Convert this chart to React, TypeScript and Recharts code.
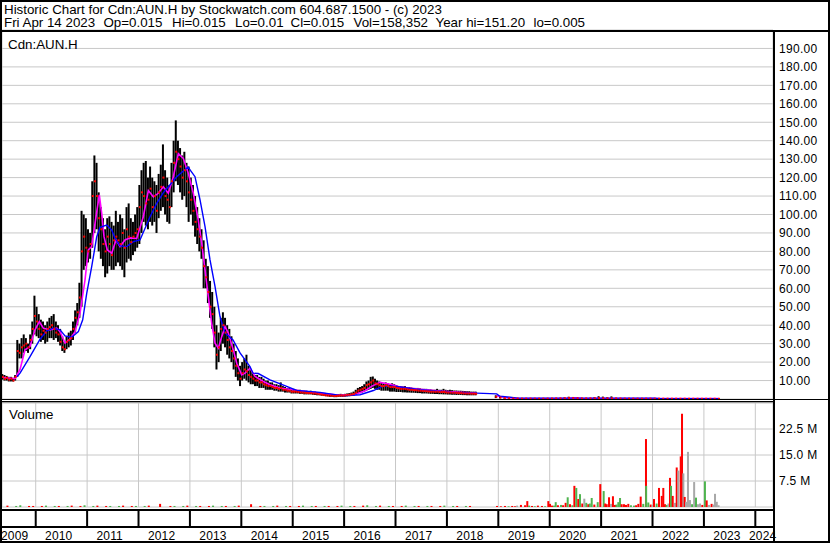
import React from "react";
import { ComposedChart, Bar, Line, XAxis, YAxis, CartesianGrid } from "recharts";

const FONT = '"Liberation Sans", Arial, Helvetica, sans-serif';
const W = 830;
const H = 543;

const TITLE = "Historic Chart for Cdn:AUN.H by Stockwatch.com 604.687.1500 - (c) 2023";
const SUBTITLE_PARTS = ["Fri Apr 14 2023", "Op=0.015", "Hi=0.015", "Lo=0.01", "Cl=0.015", "Vol=158,352", "Year hi=151.20", "lo=0.005"];
const SUBTITLE_X = [4, 103.5, 172, 235, 290.5, 353.5, 435.5, 533.5];
const SYMBOL = "Cdn:AUN.H";
const VOLUME_LABEL = "Volume";

// x axis: decimal years
const X_DOMAIN: [number, number] = [2009.344, 2024.344];
const YEAR_GRID = [2010, 2011, 2012, 2013, 2014, 2015, 2016, 2017, 2018, 2019, 2020, 2021, 2022, 2023, 2024];
const YEAR_LABELS = [2009, 2010, 2011, 2012, 2013, 2014, 2015, 2016, 2017, 2018, 2019, 2020, 2021, 2022, 2023, 2024];
const PRICE_TICKS = [10, 20, 30, 40, 50, 60, 70, 80, 90, 100, 110, 120, 130, 140, 150, 160, 170, 180, 190];
const VOLUME_TICKS = [7.5, 15, 22.5];

// price bars, semi-monthly, 2009.35 - 2018.6
const SEG1_START = 2009.35;
const SEG1_PER_YEAR = 24;
const seg1Low = [
  10.5, 10, 10, 9.5, 9.5, 9.5, 10, 12, 22, 22, 25, 26, 25, 27, 30, 35, 34, 33, 31, 32,
  30, 31, 33, 33, 32, 33, 31, 29, 26, 25, 27, 28, 29, 32, 36, 40, 44, 50, 70, 72,
  74, 76, 82, 90, 92, 80, 76, 72, 66, 68, 72, 70, 70, 72, 74, 72, 70, 66, 74, 76,
  75, 78, 80, 82, 84, 90, 96, 94, 92, 96, 94, 96, 90, 98, 102, 104, 100, 96, 95, 104,
  112, 118, 116, 112, 108, 110, 104, 96, 100, 94, 88, 84, 80, 76, 60, 60, 52, 44, 38, 28,
  16, 20, 26, 30, 28, 24, 22, 20, 16, 12, 10, 7, 10, 11, 10, 9, 8, 8, 7, 7,
  6, 6, 6, 5, 5, 5, 5, 4.5, 4.5, 4, 4, 4, 3.5, 3.5, 3.5, 3, 3, 3, 3, 2.8,
  2.8, 2.5, 2.5, 2.5, 2.5, 2.3, 2.2, 2, 2, 1.8, 1.6, 1.5, 1.4, 1.2, 1.2, 1, 1, 1.2, 1.2, 1.2,
  1.3, 1.4, 1.5, 1.6, 1.8, 2.2, 2.8, 3.2, 3.5, 4, 4.5, 5, 5.5, 6, 5.5, 5, 5, 4.5, 4.5, 4.5,
  4.5, 4, 4, 4, 3.8, 3.8, 3.8, 3.6, 3.6, 3.5, 3.5, 3.4, 3.4, 3.3, 3.2, 3.2, 3, 3, 3, 2.9,
  2.8, 2.8, 2.7, 2.7, 2.6, 2.6, 2.5, 2.5, 2.4, 2.4, 2.3, 2.3, 2.2, 2.2, 2.2, 2.1, 2.1, 2, 2, 2,
  2, 2,
];
const seg1High = [
  13.5, 13, 12.5, 12, 12, 11.5, 13, 32, 30, 33, 35, 33, 30, 35, 42, 56, 50, 46, 43, 42,
  40, 42, 44, 45, 46, 42, 40, 38, 34, 31, 34, 36, 37, 42, 48, 52, 63, 102, 100, 98,
  92, 90, 118, 132, 128, 112, 104, 98, 92, 98, 99, 96, 94, 102, 96, 100, 98, 92, 104, 106,
  98, 96, 100, 104, 116, 124, 128, 129, 120, 126, 120, 118, 116, 122, 127, 138, 124, 120, 116, 128,
  140, 151, 140, 136, 132, 134, 128, 126, 120, 116, 110, 104, 98, 92, 86, 76, 72, 64, 58, 50,
  40, 36, 44, 47, 44, 40, 38, 34, 30, 26, 22, 18, 20, 22, 24, 18, 16, 14, 13, 13,
  12, 12, 11, 10, 10, 9, 9, 8, 8, 7.5, 9, 7, 6.5, 6, 6, 5.5, 5.5, 5, 5, 5,
  4.5, 4.5, 4.5, 4, 4.5, 4, 4, 3.8, 3.5, 3.3, 3, 3, 2.8, 2.6, 2.6, 2.4, 2.5, 2.6, 2.8, 2.6,
  2.8, 3, 3.2, 3.5, 4, 5, 6, 6.5, 7, 8, 9.5, 10, 12, 12.2, 11, 10, 9.5, 9, 8.5, 9,
  8.5, 8, 8.5, 8, 7.5, 7, 7, 6.8, 7, 6.5, 6.5, 6.2, 6, 6, 6, 5.8, 5.5, 5.5, 5.5, 5.2,
  5.2, 5, 5, 5.5, 5, 5, 5.5, 5, 4.8, 5, 4.8, 4.6, 4.6, 4.5, 4.5, 4.4, 4.3, 4.2, 4.2, 4,
  4, 4,
];
const seg1Close = [
  12, 11, 11.5, 10.5, 11, 10, 12, 26, 25, 28, 29, 30, 28, 32, 38, 45, 42, 38, 35, 37,
  36, 38, 39, 40, 38, 36, 35, 31, 28, 27, 31, 32, 33, 38, 44, 47, 55, 80, 88, 82,
  80, 84, 110, 118, 110, 98, 92, 84, 80, 88, 84, 78, 86, 88, 86, 84, 90, 82, 92, 88,
  85, 88, 90, 92, 104, 112, 110, 106, 108, 114, 104, 110, 102, 112, 115, 120, 110, 108, 104, 118,
  128, 134, 130, 126, 120, 124, 118, 112, 108, 102, 96, 92, 88, 82, 72, 66, 58, 50, 46, 36,
  24, 28, 38, 40, 36, 32, 28, 26, 22, 18, 14, 11, 14, 16, 15, 13, 12, 11, 10, 10,
  9, 9, 8, 7.5, 7, 7, 6.5, 6, 6, 5.5, 6, 5, 5, 4.5, 4.5, 4, 4, 4, 3.8, 3.6,
  3.5, 3.4, 3.3, 3.2, 3.2, 3, 3, 2.8, 2.6, 2.4, 2.2, 2, 1.9, 1.8, 1.7, 1.6, 1.7, 1.8, 1.9, 1.8,
  2, 2.2, 2.3, 2.5, 2.8, 3.5, 4.5, 5, 5.5, 6, 7.5, 8, 9, 10, 8.5, 8, 7.5, 7, 7, 7.5,
  7, 6.5, 6.5, 6.5, 6, 5.8, 5.5, 5.5, 5.5, 5.2, 5, 5, 4.8, 4.8, 4.6, 4.5, 4.4, 4.3, 4.2, 4.1,
  4, 4, 3.9, 4, 3.8, 3.8, 3.8, 3.6, 3.5, 3.5, 3.4, 3.4, 3.3, 3.2, 3.2, 3.1, 3, 3, 3, 2.9,
  2.9, 2.8,
];

// price bars, monthly, 2018.95 - 2023.29
const SEG2_START = 2018.95;
const SEG2_PER_YEAR = 12;
const seg2Low = [
  0.5, 0.3, 0.2, 0.15, 0.1, 0.1, 0.1, 0.1, 0.08, 0.08, 0.08, 0.08, 0.1, 0.1, 0.1, 0.12, 0.15, 0.2, 0.2, 0.15,
  0.12, 0.1, 0.1, 0.12, 0.15, 0.15, 0.12, 0.1, 0.1, 0.08, 0.08, 0.08, 0.08, 0.07, 0.07, 0.07, 0.06, 0.06, 0.06, 0.06,
  0.05, 0.05, 0.05, 0.05, 0.05, 0.05, 0.05, 0.05, 0.04, 0.04, 0.04, 0.04, 0.04,
];
const seg2High = [
  2, 1.5, 1, 0.8, 0.6, 0.5, 0.4, 0.4, 0.35, 0.35, 0.3, 0.3, 0.4, 0.5, 0.5, 0.6, 0.8, 1.2, 1.1, 0.8,
  0.6, 0.5, 0.6, 0.9, 1.5, 1.3, 0.9, 1.4, 0.6, 0.5, 0.4, 0.4, 0.35, 0.35, 0.3, 0.3, 0.3, 0.3, 0.3, 0.28,
  0.28, 0.28, 0.25, 0.25, 0.25, 0.25, 0.22, 0.22, 0.2, 0.2, 0.2, 0.2, 0.2,
];
const seg2Close = [
  1.2, 0.8, 0.5, 0.4, 0.3, 0.25, 0.2, 0.2, 0.2, 0.18, 0.18, 0.18, 0.2, 0.25, 0.3, 0.3, 0.4, 0.6, 0.5, 0.4,
  0.3, 0.3, 0.3, 0.4, 0.5, 0.45, 0.35, 0.35, 0.3, 0.25, 0.2, 0.2, 0.2, 0.18, 0.18, 0.17, 0.16, 0.16, 0.15, 0.15,
  0.15, 0.14, 0.14, 0.13, 0.13, 0.12, 0.12, 0.12, 0.11, 0.11, 0.1, 0.1, 0.1,
];

// short moving average (magenta): [year, value]
const ma50: [number, number | null][] = [
  [2009.35, 11.8], [2009.597, 11], [2009.695, 16], [2009.792, 26.7], [2009.889, 28.4], [2009.986, 37.5],
  [2010.07, 42], [2010.148, 38.4], [2010.278, 37.5], [2010.409, 38.4], [2010.473, 36.5], [2010.57, 30.3],
  [2010.667, 32.4], [2010.765, 36.5], [2010.862, 46.5], [2010.959, 64.5], [2011.023, 80.8], [2011.089, 82.6],
  [2011.154, 95.2], [2011.237, 110.6], [2011.284, 100.6], [2011.329, 88], [2011.393, 80.8], [2011.479, 79],
  [2011.562, 86.2], [2011.64, 82.6], [2011.737, 86.2], [2011.835, 87.3], [2011.965, 87], [2012.093, 98.8],
  [2012.191, 113], [2012.288, 109.6], [2012.385, 111.5], [2012.482, 115], [2012.58, 111.5], [2012.677, 120.5],
  [2012.774, 133], [2012.872, 130.4], [2012.969, 122.3], [2013.066, 111.5], [2013.163, 97], [2013.23, 84.4],
  [2013.294, 70], [2013.358, 55.5], [2013.424, 41], [2013.488, 30.3], [2013.553, 27.6], [2013.619, 33.8],
  [2013.683, 39.2], [2013.747, 35.7], [2013.844, 26.6], [2013.911, 19.4], [2014.008, 13.1], [2014.072, 14],
  [2014.169, 16.7], [2014.267, 12.2], [2014.428, 9.5], [2014.558, 7.7], [2014.753, 6], [2015.142, 4.5],
  [2015.531, 3.2], [2015.92, 2], [2016.212, 2.4], [2016.407, 4.5], [2016.543, 7], [2016.698, 9],
  [2016.893, 8], [2017.088, 6.5], [2017.477, 5.3], [2017.866, 4.3], [2018.255, 3.6], [2018.566, 3.2],
  [2018.75, null],
  [2018.975, 1.8], [2019.13, 0.8], [2019.422, 0.3], [2020.356, 0.35], [2020.492, 0.7], [2020.628, 0.35],
  [2023.288, 0.2],
];

// long moving average (blue): [year, value]
const ma200: [number, number][] = [
  [2009.636, 12], [2009.695, 14], [2009.889, 23], [2010.084, 32.4], [2010.214, 37], [2010.343, 38.4],
  [2010.473, 37.5], [2010.57, 34.2], [2010.7, 33.5], [2010.83, 36.5], [2010.914, 42.9], [2010.992, 57.3],
  [2011.089, 71.7], [2011.187, 88], [2011.251, 93], [2011.381, 94.3], [2011.479, 91.6], [2011.543, 87],
  [2011.64, 83], [2011.77, 82.6], [2011.9, 85.3], [2012.029, 86.2], [2012.224, 98.8], [2012.354, 106],
  [2012.477, 111.6], [2012.743, 120.5], [2012.963, 125.7], [2013.099, 120.5], [2013.196, 108], [2013.294, 93.4],
  [2013.391, 75.4], [2013.488, 61], [2013.585, 44.7], [2013.683, 35.8], [2013.839, 32], [2013.975, 25],
  [2014.169, 17.6], [2014.228, 14], [2014.33, 13.8], [2014.558, 10.4], [2014.883, 6.8], [2015.078, 4.6],
  [2015.531, 3.5], [2015.984, 1.7], [2016.31, 2.3], [2016.568, 4.6], [2016.763, 7.1], [2017.023, 6.8],
  [2017.477, 5], [2018.125, 3.5], [2018.58, 3.2], [2018.969, 2.8], [2019.03, 1.5], [2019.38, 0.5],
  [2022.04, 0.5], [2022.15, 0.2], [2023.288, 0.2],
];

// volume in millions: [year, volume, r=down g=up k=unchanged]
const volume: [number, number, string][] = [
  [2009.45, 0.4, "r"], [2009.62, 0.3, "g"], [2009.7, 0.5, "g"], [2009.87, 0.3, "r"], [2009.95, 0.3, "r"],
  [2010.12, 0.3, "r"], [2010.2, 0.4, "g"], [2010.37, 0.3, "g"], [2010.45, 0.3, "r"], [2010.62, 0.3, "g"],
  [2010.7, 0.4, "r"], [2010.87, 0.3, "r"], [2010.95, 0.5, "g"], [2011.12, 0.3, "g"], [2011.2, 0.4, "r"],
  [2011.37, 0.3, "r"], [2011.45, 0.3, "g"], [2011.62, 0.3, "g"], [2011.7, 0.4, "r"], [2011.87, 0.3, "r"],
  [2011.95, 0.3, "g"], [2012.12, 0.3, "g"], [2012.2, 0.4, "r"], [2012.42, 0.9, "r"], [2012.62, 0.3, "r"],
  [2012.7, 0.3, "g"], [2012.87, 0.3, "g"], [2012.95, 0.4, "r"], [2013.12, 0.3, "g"], [2013.2, 0.3, "r"],
  [2013.37, 0.3, "r"], [2013.45, 0.4, "g"], [2013.62, 0.3, "g"], [2013.7, 0.3, "r"], [2013.87, 0.3, "g"],
  [2013.95, 0.4, "r"], [2014.19, 0.8, "r"], [2014.37, 0.3, "r"], [2014.45, 0.3, "g"], [2014.62, 0.3, "g"],
  [2014.7, 0.4, "r"], [2014.87, 0.3, "g"], [2014.95, 0.3, "r"], [2015.12, 0.3, "r"], [2015.2, 0.4, "g"],
  [2015.37, 0.3, "g"], [2015.45, 0.3, "r"], [2015.62, 0.3, "g"], [2015.7, 0.3, "r"], [2015.87, 0.3, "r"],
  [2015.95, 0.4, "g"], [2016.12, 0.3, "g"], [2016.2, 0.3, "r"], [2016.37, 0.4, "r"], [2016.45, 0.5, "g"],
  [2016.62, 0.3, "g"], [2016.7, 0.4, "r"], [2016.87, 0.3, "g"], [2016.95, 0.3, "r"], [2017.12, 0.3, "r"],
  [2017.2, 0.4, "g"], [2017.37, 0.3, "g"], [2017.45, 0.3, "r"], [2017.62, 0.3, "g"], [2017.7, 0.3, "r"],
  [2017.87, 0.3, "r"], [2017.95, 0.4, "g"], [2018.12, 0.3, "g"], [2018.2, 0.3, "r"], [2018.37, 0.3, "g"],
  [2018.45, 0.3, "r"],
  [2018.975, 0.3, "r"], [2019.05, 0.2, "r"], [2019.13, 0.3, "r"], [2019.2, 0.2, "g"], [2019.27, 0.3, "r"],
  [2019.325, 0.2, "r"], [2019.365, 0.4, "k"], [2019.44, 0.6, "r"], [2019.52, 0.5, "r"], [2019.564, 1.7, "r"],
  [2019.6, 0.4, "g"], [2019.656, 0.3, "r"], [2019.71, 0.2, "g"], [2019.77, 0.4, "r"], [2019.85, 0.3, "r"],
  [2019.91, 0.2, "g"], [2019.973, 1.7, "r"], [2020.006, 0.9, "r"], [2020.045, 0.4, "r"], [2020.084, 0.4, "g"],
  [2020.117, 1.4, "g"], [2020.16, 0.5, "r"], [2020.22, 0.6, "g"], [2020.26, 0.5, "r"], [2020.31, 1.2, "r"],
  [2020.35, 2.8, "g"], [2020.395, 0.8, "r"], [2020.44, 0.5, "g"], [2020.48, 6.1, "r"], [2020.517, 5.5, "g"],
  [2020.556, 2.3, "r"], [2020.589, 3.7, "g"], [2020.634, 1.0, "r"], [2020.673, 2.4, "k"], [2020.712, 1.2, "g"],
  [2020.751, 0.8, "r"], [2020.78, 1.0, "g"], [2020.817, 2.6, "g"], [2020.868, 0.7, "r"], [2020.934, 1.4, "g"],
  [2020.984, 6.6, "r"], [2021.05, 4.6, "g"], [2021.08, 1.0, "r"], [2021.109, 0.8, "r"], [2021.154, 2.8, "r"],
  [2021.193, 0.9, "k"], [2021.23, 3.1, "r"], [2021.27, 0.6, "r"], [2021.3, 0.7, "g"], [2021.335, 1.4, "g"],
  [2021.368, 2.6, "g"], [2021.4, 0.8, "r"], [2021.445, 0.8, "r"], [2021.484, 0.6, "r"], [2021.529, 0.9, "r"],
  [2021.58, 0.5, "g"], [2021.64, 0.4, "g"], [2021.68, 0.5, "r"], [2021.724, 0.9, "r"], [2021.77, 3.0, "r"],
  [2021.82, 0.9, "g"], [2021.873, 19.6, "r"], [2021.876, 6.1, "g"], [2021.918, 1.3, "g"], [2021.965, 0.7, "r"],
  [2022.0, 0.6, "k"], [2022.029, 2.3, "r"], [2022.08, 1.0, "g"], [2022.126, 5.5, "r"], [2022.18, 3.2, "r"],
  [2022.21, 5.5, "r"], [2022.243, 0.8, "r"], [2022.276, 0.6, "g"], [2022.31, 1.0, "k"], [2022.34, 8.4, "r"],
  [2022.36, 6.1, "g"], [2022.393, 3.2, "r"], [2022.438, 1.2, "k"], [2022.471, 11.4, "r"], [2022.502, 10.5, "k"],
  [2022.549, 14.6, "r"], [2022.574, 26.9, "r"], [2022.6, 9.7, "k"], [2022.626, 2.9, "r"], [2022.652, 1.5, "k"],
  [2022.69, 15.9, "k"], [2022.73, 2.0, "k"], [2022.77, 0.8, "g"], [2022.81, 7.2, "k"], [2022.846, 2.7, "g"],
  [2022.885, 0.8, "k"], [2022.924, 1.0, "k"], [2022.969, 0.6, "r"], [2023.02, 7.4, "g"], [2023.054, 1.9, "r"],
  [2023.1, 0.6, "k"], [2023.15, 0.9, "r"], [2023.187, 0.7, "k"], [2023.216, 3.8, "k"], [2023.25, 1.5, "k"],
  [2023.285, 0.5, "k"],
];

const VOL_COLORS: Record<string, string> = { r: "#ff0000", g: "#4fb44f", k: "#a8a8a8" };

const priceRows = [
  ...seg1Close.map((c, i) => ({ t: SEG1_START + i / SEG1_PER_YEAR, lo: seg1Low[i], hi: seg1High[i], c })),
  ...seg2Close.map((c, i) => ({ t: SEG2_START + i / SEG2_PER_YEAR, lo: seg2Low[i], hi: seg2High[i], c })),
];
const ma50Rows = ma50.map(([t, v]) => ({ t, v }));
const ma200Rows = ma200.map(([t, v]) => ({ t, v }));
const volRows = volume.map(([t, v, c]) => ({ t, v, c }));

const PriceTick = (p: any) => (
  <text x={p.x} y={p.y} dy={4.3} fontFamily={FONT} fontSize={12} letterSpacing={0.3} fill="#000" textAnchor="start">
    {Number(p.payload.value).toFixed(2)}
  </text>
);

const VolTick = (p: any) => (
  <text x={p.x} y={p.y} dy={4.3} fontFamily={FONT} fontSize={12} letterSpacing={0.3} fill="#000" textAnchor="start">
    {`${Number(p.payload.value).toFixed(1)} M`}
  </text>
);

const YearTick = (p: any) => {
  const year = p.payload.value;
  const lx = Math.min(Math.max(p.x + 9.4, 1), 749);
  return (
    <g>
      {year >= YEAR_GRID[0] && (
        <line x1={p.x} x2={p.x} y1={p.y + 2} y2={p.y + 20} stroke="#000" strokeWidth={2} />
      )}
      <text x={lx} y={p.y + 32.5} fontFamily={FONT} fontSize={12} letterSpacing={0.15} fill="#000" textAnchor="start">
        {year}
      </text>
    </g>
  );
};

// fixed-width stick drawn at the bar position the library computes
const RangeStick = (p: any) => {
  const { x, y, width, height } = p;
  if (![x, y, width, height].every((n) => typeof n === "number" && isFinite(n))) return <g />;
  const top = Math.min(y, y + height);
  const h = Math.max(Math.abs(height), 1);
  return <rect x={x + width / 2 - 1} y={top} width={2} height={h} fill="#000" />;
};

const VolStick = (p: any) => {
  const { x, y, width, height, payload } = p;
  if (![x, y, width, height].every((n) => typeof n === "number" && isFinite(n))) return <g />;
  const top = Math.min(y, y + height);
  const h = Math.max(Math.abs(height), 1);
  return <rect x={x + width / 2 - 1} y={top} width={2} height={h} fill={VOL_COLORS[payload?.c] || "#ff0000"} />;
};

const CloseDot = (p: any) => {
  if (p.cx == null || p.cy == null || p.value == null) return <g key={`cd${p.index}`} />;
  return <rect key={`cd${p.index}`} x={p.cx - 0.5} y={p.cy - 1} width={2} height={2} fill="#ff0000" />;
};

export default function App() {
  return (
    <div style={{ position: "absolute", left: 0, top: 0, width: W, height: H, background: "#fff", overflow: "hidden" }}>
      <div style={{ position: "absolute", left: 0, top: 0 }}>
        <ComposedChart width={W} height={400} data={priceRows} margin={{ top: 30, right: 0, left: 2, bottom: 0 }}>
          <CartesianGrid stroke="#c8c8c8" strokeWidth={1} />
          <XAxis
            type="number"
            dataKey="t"
            domain={X_DOMAIN}
            allowDataOverflow
            ticks={YEAR_GRID}
            interval={0}
            height={1}
            tick={false}
            axisLine={false}
            tickLine={false}
          />
          <YAxis
            orientation="right"
            width={57}
            domain={[0, 200]}
            allowDataOverflow
            ticks={PRICE_TICKS}
            interval={0}
            tickSize={0}
            tickMargin={6}
            axisLine={false}
            tickLine={false}
            tick={PriceTick}
          />
          <Bar dataKey={(d: any) => [d.lo, d.hi]} fill="#000" barSize={2} shape={RangeStick} isAnimationActive={false} />
          <Line data={ma50Rows} dataKey="v" stroke="#ff00ff" strokeWidth={1.6} dot={false} activeDot={false} isAnimationActive={false} />
          <Line dataKey="c" stroke="none" dot={CloseDot} activeDot={false} isAnimationActive={false} />
          <Line data={ma200Rows} dataKey="v" stroke="#0000ff" strokeWidth={1.4} dot={false} activeDot={false} isAnimationActive={false} />
        </ComposedChart>
      </div>
      <div style={{ position: "absolute", left: 0, top: 400 }}>
        <ComposedChart width={W} height={143} data={volRows} margin={{ top: 3, right: 0, left: 2, bottom: 0 }}>
          <CartesianGrid stroke="#c8c8c8" strokeWidth={1} />
          <XAxis
            type="number"
            dataKey="t"
            domain={X_DOMAIN}
            allowDataOverflow
            ticks={YEAR_LABELS}
            interval={0}
            height={36}
            tickSize={0}
            tickMargin={0}
            axisLine={false}
            tickLine={false}
            tick={YearTick}
          />
          <YAxis
            orientation="right"
            width={57}
            domain={[0, 30]}
            allowDataOverflow
            ticks={VOLUME_TICKS}
            interval={0}
            tickSize={0}
            tickMargin={6}
            axisLine={false}
            tickLine={false}
            tick={VolTick}
          />
          <Bar dataKey="v" barSize={2} shape={VolStick} isAnimationActive={false} />
        </ComposedChart>
      </div>
      <svg width={W} height={H} style={{ position: "absolute", left: 0, top: 0, pointerEvents: "none" }}>
        <g fill="#000">
          <rect x={0} y={0} width={W} height={2} />
          <rect x={0} y={0} width={2} height={H} />
          <rect x={W - 2} y={0} width={2} height={H} />
          <rect x={0} y={H - 2} width={W} height={2} />
          <rect x={0} y={30} width={W} height={2} />
          <rect x={773} y={30} width={2} height={H - 30} />
          <rect x={0} y={399} width={W} height={1} />
          <rect x={0} y={401} width={773} height={1.3} />
          <rect x={0} y={509} width={773} height={2} />
          <rect x={0} y={526} width={773} height={2} />
        </g>
        <g fontFamily={FONT} fontSize={13.33} fill="#000">
          <text x={4} y={13.5}>{TITLE}</text>
          <text y={27}>
            {SUBTITLE_PARTS.map((s, i) => (
              <tspan key={`s${i}`} x={SUBTITLE_X[i]}>{s}</tspan>
            ))}
          </text>
          <text x={8} y={48.5}>{SYMBOL}</text>
          <text x={9} y={418.5}>{VOLUME_LABEL}</text>
        </g>
      </svg>
    </div>
  );
}
